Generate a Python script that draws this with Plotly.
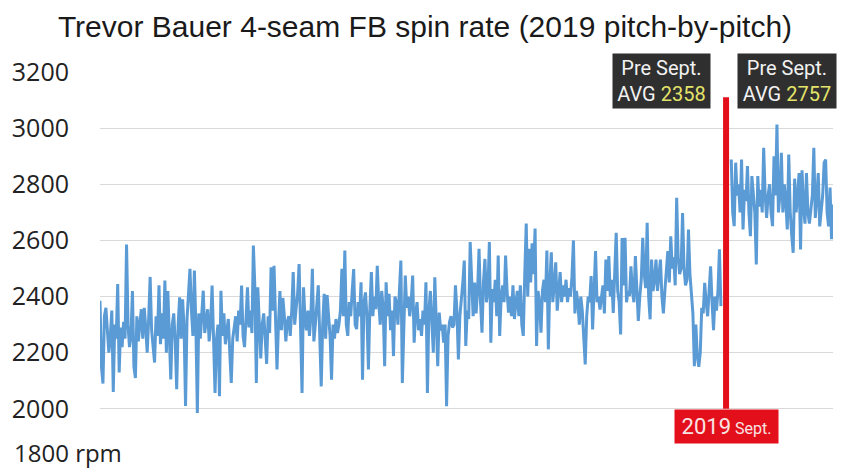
import plotly.graph_objects as go

TITLE = "Trevor Bauer 4-seam FB spin rate (2019 pitch-by-pitch)"

# y-axis ticks (rpm)
Y_TICKS = [1800, 2000, 2200, 2400, 2600, 2800, 3000, 3200]
Y_UNIT = "rpm"

# pitch-by-pitch spin rate before September (rpm)
SPIN_PRE_SEPT = [
    2385, 2150, 2090, 2330, 2360, 2280, 2200, 2260, 2350, 2060,
    2300, 2250, 2445, 2130, 2290, 2220, 2310, 2250, 2585, 2300,
    2220, 2260, 2420, 2150, 2110, 2330, 2240, 2300, 2355, 2250,
    2360, 2290, 2200, 2320, 2470, 2280, 2230, 2165, 2330, 2260,
    2440, 2230, 2340, 2250, 2457, 2200, 2420, 2280, 2105, 2300,
    2340, 2240, 2070, 2300, 2397, 2250, 2390, 2290, 2010, 2320,
    2400, 2499, 2350, 2260, 2493, 2300, 1985, 2340, 2250, 2330,
    2421, 2270, 2310, 2355, 2240, 2300, 2439, 2280, 2057, 2250,
    2300, 2045, 2421, 2260, 2340, 2230, 2280, 2320, 2200, 2092,
    2250, 2290, 2330, 2240, 2350, 2300, 2439, 2260, 2220, 2320,
    2433, 2290, 2350, 2270, 2582, 2433, 2092, 2433, 2280, 2180,
    2300, 2340, 2250, 2160, 2330, 2270, 2504, 2350, 2510, 2300,
    2140, 2300, 2420, 2280, 2395, 2330, 2240, 2310, 2330, 2260,
    2350, 2487, 2300, 2360, 2410, 2516, 2300, 2057, 2433, 2320,
    2280, 2350, 2260, 2330, 2499, 2240, 2300, 2360, 2440, 2260,
    2080, 2300, 2410, 2250, 2405, 2330, 2260, 2104, 2300, 2250,
    2320, 2270, 2300, 2350, 2499, 2330, 2564, 2300, 2260, 2380,
    2330, 2420, 2498, 2300, 2284, 2380, 2330, 2451, 2104, 2380,
    2415, 2330, 2140, 2360, 2487, 2330, 2400, 2355, 2510, 2380,
    2300, 2420, 2360, 2152, 2451, 2330, 2410, 2280, 2350, 2188,
    2400, 2380, 2300, 2420, 2528, 2092, 2330, 2475, 2360, 2400,
    2330, 2380, 2475, 2236, 2340, 2380, 2280, 2320, 2260, 2350,
    2300, 2451, 2057, 2350, 2420, 2300, 2200, 2469, 2300, 2152,
    2343, 2280, 2300, 2236, 2300, 2009, 2260, 2310, 2330, 2290,
    2300, 2440, 2350, 2176, 2330, 2380, 2450, 2528, 2224, 2350,
    2320, 2594, 2420, 2330, 2450, 2340, 2420, 2570, 2380, 2271,
    2450, 2534, 2380, 2420, 2594, 2236, 2427, 2380, 2460, 2330,
    2546, 2260, 2400, 2440, 2380, 2546, 2420, 2343, 2400, 2330,
    2440, 2320, 2380, 2420, 2330, 2440, 2300, 2260, 2480, 2660,
    2400, 2570, 2450, 2590, 2480, 2642, 2224, 2420, 2380, 2271,
    2420, 2460, 2380, 2564, 2212, 2450, 2558, 2380, 2440, 2522,
    2350, 2420, 2487, 2380, 2440, 2400, 2460, 2380, 2430, 2400,
    2470, 2600, 2340, 2420, 2380, 2300, 2400, 2350, 2260, 2158,
    2330, 2400, 2380, 2473, 2283, 2420, 2562, 2380, 2400, 2354,
    2402, 2440, 2340, 2532, 2420, 2544, 2400, 2460, 2342, 2470,
    2627, 2420, 2380, 2265, 2609, 2440, 2609, 2380, 2420, 2402,
    2508, 2420, 2380, 2544, 2420, 2313, 2400, 2460, 2609, 2480,
    2430, 2663, 2400, 2319, 2532, 2420, 2460, 2532, 2420, 2480,
    2532, 2400, 2340, 2420, 2480, 2562, 2450, 2615, 2500, 2540,
    2440, 2752, 2540, 2480, 2500, 2698, 2500, 2440, 2460, 2639,
    2480, 2420, 2340, 2152, 2300, 2188, 2150, 2200, 2360, 2340,
    2449, 2380, 2330, 2420, 2508, 2380, 2280, 2400, 2350, 2420,
    2568, 2366,
]

# pitch-by-pitch spin rate in September (rpm)
SPIN_SEPT = [
    2888, 2700, 2651, 2877, 2760, 2800, 2700, 2888, 2639, 2780,
    2740, 2865, 2700, 2615, 2829, 2760, 2700, 2514, 2829, 2720,
    2780, 2700, 2930, 2760, 2680, 2760, 2800, 2700, 2651, 2900,
    2760, 3013, 2700, 2760, 2912, 2700, 2800, 2740, 2639, 2906,
    2700, 2620, 2556, 2820, 2700, 2760, 2840, 2568, 2850, 2720,
    2660, 2840, 2700, 2660, 2720, 2760, 2930, 2680, 2750, 2840,
    2650, 2700, 2760, 2877, 2888, 2700, 2650, 2788, 2604, 2728,
]

BOX_LEFT = ("Pre Sept.", "AVG", "2358")
BOX_RIGHT = ("Pre Sept.", "AVG", "2757")
SEPT_LABEL = ("2019", "Sept.")
SEPT_LINE_SPAN = (2000, 3110)

n_pre = len(SPIN_PRE_SEPT)
GAP = 6
x_pre = list(range(n_pre))
x_sept = [n_pre + GAP + i for i in range(len(SPIN_SEPT))]
sept_x = n_pre + 2.5
x_max = x_sept[-1]

LINE_BLUE = "#5B9BD5"
RED = "#E3101B"
DARK = "#2F2F2F"
YELLOW = "#E4E46A"
TEXT = "#222222"

fig = go.Figure()
fig.add_trace(go.Scatter(x=x_pre, y=SPIN_PRE_SEPT, mode="lines",
                         line=dict(color=LINE_BLUE, width=3), hoverinfo="skip",
                         showlegend=False))
fig.add_trace(go.Scatter(x=x_sept, y=SPIN_SEPT, mode="lines",
                         line=dict(color=LINE_BLUE, width=3), hoverinfo="skip",
                         showlegend=False))

fig.add_shape(type="line", xref="x", yref="y", x0=sept_x, x1=sept_x,
              y0=SEPT_LINE_SPAN[0], y1=SEPT_LINE_SPAN[1],
              line=dict(color=RED, width=6), layer="above")

def box_text(t):
    return (f"{t[0]}<br>{t[1]} <span style='color:{YELLOW}'>{t[2]}</span>")

fig.add_annotation(x=sept_x, xref="x", y=1.048, yref="paper",
                   xanchor="right", yanchor="top", xshift=-15,
                   text=box_text(BOX_LEFT), showarrow=False,
                   width=95, height=52, bgcolor=DARK, align="center", valign="middle",
                   font=dict(family="Roboto", size=20, color="#F2F2F2"))
fig.add_annotation(x=sept_x, xref="x", y=1.048, yref="paper",
                   xanchor="left", yanchor="top", xshift=11,
                   text=box_text(BOX_RIGHT), showarrow=False,
                   width=96, height=52, bgcolor=DARK, align="center", valign="middle",
                   font=dict(family="Roboto", size=20, color="#F2F2F2"))

fig.add_annotation(x=sept_x, xref="x", y=SEPT_LINE_SPAN[0], yref="y",
                   xanchor="center", yanchor="top",
                   text=f"{SEPT_LABEL[0]}<span style='font-size:16px'> {SEPT_LABEL[1]}</span>",
                   showarrow=False, width=101, height=31, bgcolor=RED,
                   align="center", valign="middle",
                   font=dict(family="Roboto", size=22, color="#F9E4E4"))

# bottom tick label carries the unit, left-aligned like the others
fig.add_annotation(x=-0.12, xref="paper", y=Y_TICKS[0], yref="y",
                   xanchor="left", yanchor="middle", yshift=13,
                   text=f"{Y_TICKS[0]} {Y_UNIT}", showarrow=False,
                   font=dict(family="Open Sans", size=24, color=TEXT))

tick_text = [""] + [str(v) for v in Y_TICKS[1:]]

fig.update_layout(
    width=850, height=470,
    margin=dict(l=100, r=17, t=72, b=5),
    paper_bgcolor="white", plot_bgcolor="white",
    title=dict(text=TITLE, x=0.5, xref="container", xanchor="center",
               y=0.943, yref="container", yanchor="middle",
               font=dict(family="Liberation Sans", size=30, color="#1A1A1A")),
    xaxis=dict(range=[0, x_max], showgrid=False, showticklabels=False,
               zeroline=False, showline=False, ticks=""),
    yaxis=dict(range=[Y_TICKS[0], Y_TICKS[-1]], tickvals=Y_TICKS, ticktext=tick_text,
               showgrid=True, gridcolor="#D9D9D9", gridwidth=1,
               zeroline=False, showline=False, ticks="",
               ticklabelstandoff=30,
               tickfont=dict(family="Open Sans", size=25, color=TEXT)),
)

fig.write_html("out.html")
